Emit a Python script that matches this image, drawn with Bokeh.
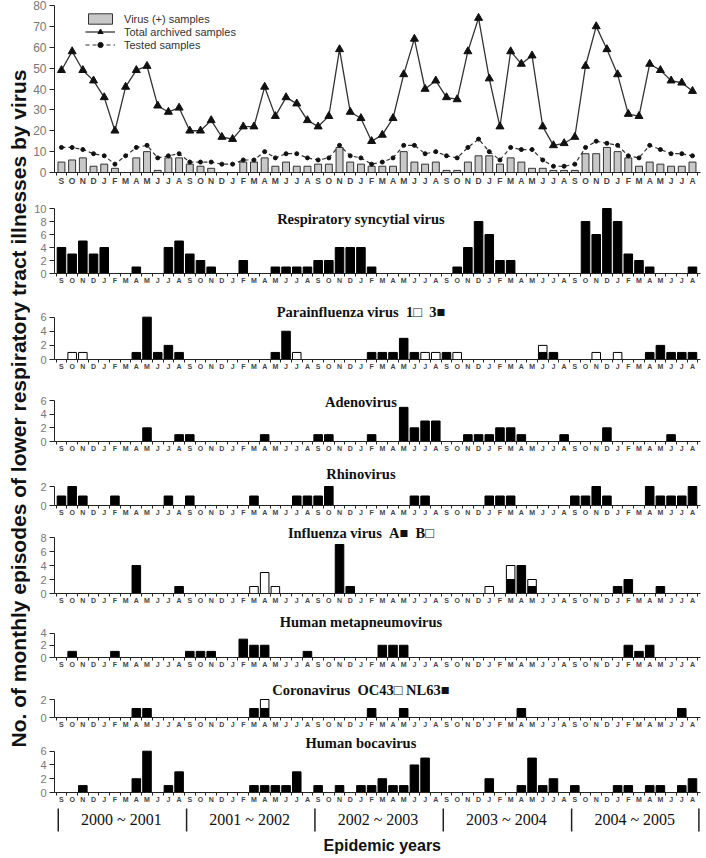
import math
from bokeh.plotting import figure
from bokeh.models import Range1d, FixedTicker, Label, ColumnDataSource
from bokeh.layouts import row, column
from bokeh.embed import file_html
from bokeh.resources import INLINE
from bokeh.core.properties import value

# ---------------- data ----------------
months = ["S", "O", "N", "D", "J", "F", "M", "A", "M", "J", "J", "A"] * 5
epidemic_years = ["2000 ~ 2001", "2001 ~ 2002", "2002 ~ 2003", "2003 ~ 2004", "2004 ~ 2005"]

total_archived = [49, 58, 49, 44, 36, 20, 41, 49, 51, 32, 29, 31,
                  20, 20, 25, 17, 16, 22, 22, 41, 27, 36, 33, 25,
                  22, 27, 59, 29, 26, 15, 18, 26, 47, 64, 40, 44,
                  36, 35, 58, 74, 45, 22, 58, 52, 56, 22, 13, 14,
                  17, 51, 70, 59, 47, 28, 27, 52, 49, 44, 43, 39]
tested = [12, 12, 11, 9, 8, 4, 8, 12, 13, 7, 8, 9,
          5, 5, 5, 4, 4, 6, 6, 10, 7, 9, 9, 7,
          6, 7, 13, 8, 7, 4, 5, 7, 13, 13, 9, 10,
          8, 7, 12, 16, 10, 6, 12, 11, 11, 6, 3, 3,
          4, 12, 15, 14, 13, 8, 7, 13, 11, 9, 9, 8]
virus_pos = [5, 6, 7, 3, 4, 2, 0, 7, 10, 1, 7, 7,
             4, 3, 2, 0, 0, 5, 5, 7, 3, 5, 3, 3,
             4, 4, 12, 5, 4, 3, 3, 3, 10, 5, 4, 5,
             1, 1, 5, 8, 8, 4, 7, 5, 2, 2, 1, 1,
             1, 9, 9, 12, 10, 7, 3, 5, 4, 3, 3, 5]

rsv = [4, 3, 5, 3, 4, 0, 0, 1, 0, 0, 4, 5,
       3, 2, 1, 0, 0, 2, 0, 0, 1, 1, 1, 1,
       2, 2, 4, 4, 4, 1, 0, 0, 0, 0, 0, 0,
       0, 1, 4, 8, 6, 2, 2, 0, 0, 0, 0, 0,
       0, 8, 6, 10, 8, 3, 2, 1, 0, 0, 0, 1]
piv1 = [0, 1, 1, 0, 0, 0, 0, 0, 0, 0, 0, 0,
        0, 0, 0, 0, 0, 0, 0, 0, 0, 0, 1, 0,
        0, 0, 0, 0, 0, 0, 0, 0, 0, 0, 1, 1,
        0, 1, 0, 0, 0, 0, 0, 0, 0, 1, 0, 0,
        0, 0, 1, 0, 1, 0, 0, 0, 0, 0, 0, 0]
piv3 = [0, 0, 0, 0, 0, 0, 0, 1, 6, 1, 2, 1,
        0, 0, 0, 0, 0, 0, 0, 0, 1, 4, 0, 0,
        0, 0, 0, 0, 0, 1, 1, 1, 3, 1, 0, 0,
        1, 0, 0, 0, 0, 0, 0, 0, 0, 1, 1, 0,
        0, 0, 0, 0, 0, 0, 0, 1, 2, 1, 1, 1]
adeno = [0, 0, 0, 0, 0, 0, 0, 0, 2, 0, 0, 1,
         1, 0, 0, 0, 0, 0, 0, 1, 0, 0, 0, 0,
         1, 1, 0, 0, 0, 1, 0, 0, 5, 2, 3, 3,
         0, 0, 1, 1, 1, 2, 2, 1, 0, 0, 0, 1,
         0, 0, 0, 2, 0, 0, 0, 0, 0, 1, 0, 0]
rhino = [1, 2, 1, 0, 0, 1, 0, 0, 0, 0, 1, 0,
         1, 0, 0, 0, 0, 0, 1, 0, 0, 0, 1, 1,
         1, 2, 0, 0, 0, 0, 0, 0, 0, 1, 1, 0,
         0, 0, 0, 0, 1, 1, 1, 0, 0, 0, 0, 0,
         1, 1, 2, 1, 0, 0, 0, 2, 1, 1, 1, 2]
flu_a = [0, 0, 0, 0, 0, 0, 0, 4, 0, 0, 0, 1,
         0, 0, 0, 0, 0, 0, 0, 0, 0, 0, 0, 0,
         0, 0, 7, 1, 0, 0, 0, 0, 0, 0, 0, 0,
         0, 0, 0, 0, 0, 0, 2, 4, 1, 0, 0, 0,
         0, 0, 0, 0, 1, 2, 0, 0, 1, 0, 0, 0]
flu_b = [0, 0, 0, 0, 0, 0, 0, 0, 0, 0, 0, 0,
         0, 0, 0, 0, 0, 0, 1, 3, 1, 0, 0, 0,
         0, 0, 0, 0, 0, 0, 0, 0, 0, 0, 0, 0,
         0, 0, 0, 0, 1, 0, 2, 0, 1, 0, 0, 0,
         0, 0, 0, 0, 0, 0, 0, 0, 0, 0, 0, 0]
hmpv = [0, 1, 0, 0, 0, 1, 0, 0, 0, 0, 0, 0,
        1, 1, 1, 0, 0, 3, 2, 2, 0, 0, 0, 1,
        0, 0, 0, 0, 0, 0, 2, 2, 2, 0, 0, 0,
        0, 0, 0, 0, 0, 0, 0, 0, 0, 0, 0, 0,
        0, 0, 0, 0, 0, 2, 1, 2, 0, 0, 0, 0]
cov_nl63 = [0, 0, 0, 0, 0, 0, 0, 1, 1, 0, 0, 0,
            0, 0, 0, 0, 0, 0, 1, 1, 0, 0, 0, 0,
            0, 0, 0, 0, 0, 1, 0, 0, 1, 0, 0, 0,
            0, 0, 0, 0, 0, 0, 0, 1, 0, 0, 0, 0,
            0, 0, 0, 0, 0, 0, 0, 0, 0, 0, 1, 0]
cov_oc43 = [0, 0, 0, 0, 0, 0, 0, 0, 0, 0, 0, 0,
            0, 0, 0, 0, 0, 0, 0, 1, 0, 0, 0, 0,
            0, 0, 0, 0, 0, 0, 0, 0, 0, 0, 0, 0,
            0, 0, 0, 0, 0, 0, 0, 0, 0, 0, 0, 0,
            0, 0, 0, 0, 0, 0, 0, 0, 0, 0, 0, 0]
boca = [0, 0, 1, 0, 0, 0, 0, 2, 6, 0, 1, 3,
        0, 0, 0, 0, 0, 0, 1, 1, 1, 1, 3, 0,
        1, 0, 1, 0, 1, 1, 2, 1, 1, 4, 5, 0,
        0, 0, 0, 0, 2, 0, 0, 1, 5, 1, 2, 0,
        1, 0, 0, 0, 1, 1, 0, 1, 1, 0, 1, 2]

x = list(range(len(months)))

# ---------------- layout helpers ----------------
XR = Range1d(-0.65, 59.75)
LW = 30                 # y-label strip width
PW, LB, RB = 675, 23, 5  # panel width, left / right borders
SANS = "Liberation Sans"
SERIF = "Liberation Serif"
SP = "\u00a0"


def style_axes(p, ymax, ystep, month_font, ytick_font):
    p.grid.visible = False
    p.outline_line_color = None
    xa = p.xaxis[0]
    xa.ticker = FixedTicker(ticks=x, minor_ticks=[i - 0.5 for i in range(len(x) + 1)])
    xa.major_label_overrides = {i: m for i, m in enumerate(months)}
    xa.major_tick_out = 0
    xa.major_tick_in = 0
    xa.minor_tick_out = 3
    xa.minor_tick_in = 0
    xa.major_label_standoff = 0
    xa.major_label_text_font = SANS
    xa.major_label_text_font_style = "bold"
    xa.major_label_text_font_size = month_font
    xa.major_label_text_color = "#444"
    xa.axis_line_color = "#222"
    xa.minor_tick_line_color = "#222"
    ya = p.yaxis[0]
    ya.ticker = FixedTicker(ticks=list(range(0, ymax + 1, ystep)))
    ya.bounds = (0, ymax)
    ya.major_tick_out = 5
    ya.major_tick_in = 0
    ya.minor_tick_out = 0
    ya.minor_tick_in = 0
    ya.major_label_standoff = 3
    ya.major_label_text_font = SANS
    ya.major_label_text_font_size = ytick_font
    ya.major_label_text_color = "#777"
    ya.axis_line_color = "#222"
    ya.major_tick_line_color = "#222"


def panel(fig_top, fig_bottom, axis_top, axis_bottom, ymax, ystep,
          title_y=None, text=None, month_font="7px", ytick_font="11px", top_border=2):
    """Panel whose frame reaches up to the title; the y axis only spans 0..ymax."""
    frame_top = fig_top + top_border
    per_px = ymax / float(axis_bottom - axis_top)
    y_end = (axis_bottom - frame_top) * per_px
    p = figure(width=PW, height=fig_bottom - fig_top, x_range=XR, y_range=Range1d(0, y_end),
               output_backend="svg", toolbar_location=None,
               min_border_left=LB, min_border_right=RB,
               min_border_top=top_border, min_border_bottom=fig_bottom - axis_bottom)
    style_axes(p, ymax, ystep, month_font, ytick_font)
    if text is not None:
        p.add_layout(Label(x=28, y=(axis_bottom - title_y) * per_px, text=text,
                           text_align="center", text_baseline="middle", text_font=SERIF,
                           text_font_style="bold", text_font_size="14.5px", text_color="#111"))
    return p


def bars(p, vals, bottom=None, fill="black", width=0.8):
    b = bottom if bottom is not None else [0] * len(vals)
    keep = [i for i, v in enumerate(vals) if v > 0]
    src = ColumnDataSource(dict(x=[x[i] for i in keep],
                                bottom=[b[i] for i in keep],
                                top=[b[i] + vals[i] for i in keep]))
    p.vbar(x="x", bottom="bottom", top="top", width=width, source=src,
           fill_color=fill, line_color="black", line_width=1)


# ---------------- top panel ----------------
p0 = panel(0, 188, 5, 172, 80, 10, month_font="8.5px", ytick_font="12px", top_border=5)
p0.vbar(x=x, top=virus_pos, width=0.65, fill_color="#c8c8c8", line_color="#333",
        line_width=1, legend_label="Virus (+) samples")
p0.line(x, total_archived, line_color="#333", line_width=1.3,
        legend_label="Total archived samples")
p0.scatter(x, total_archived, marker="triangle", size=8, fill_color="#111",
           line_color="#111", legend_label="Total archived samples")
p0.line(x, tested, line_color="#333", line_width=1.2, line_dash="4 3",
        legend_label="Tested samples")
p0.scatter(x, tested, marker="circle", size=4, fill_color="#111",
           line_color="#111", legend_label="Tested samples")
lg = p0.legend[0]
lg.location = (31, 121)
lg.padding = 0
lg.spacing = 0
lg.margin = 0
lg.border_line_color = None
lg.background_fill_alpha = 0
lg.label_text_font = SANS
lg.label_text_font_size = "11px"
lg.label_text_color = "#333"
lg.glyph_width = 30
lg.glyph_height = 13
lg.label_height = 13
lg.label_standoff = 9

# ---------------- virus panels ----------------
p1 = panel(188, 290, 208, 273, 10, 2, 218, "Respiratory syncytial virus")
bars(p1, rsv)

p2 = panel(290, 372, 317, 360, 6, 2, 312,
           "Parainfluenza virus" + SP * 2 + "1\u25a1" + SP * 2 + "3\u25a0")
bars(p2, piv3)
bars(p2, piv1, bottom=piv3, fill="white")

p3 = panel(372, 456, 400, 441, 6, 2, 401, "Adenovirus")
bars(p3, adeno)

p4 = panel(456, 518, 486, 505, 2, 2, 473, "Rhinovirus")
bars(p4, rhino)

p5 = panel(518, 608, 537, 593, 8, 2, 532,
           "Influenza virus" + SP * 2 + "A\u25a0" + SP * 2 + "B\u25a1")
bars(p5, flu_a)
bars(p5, flu_b, bottom=flu_a, fill="white")

p6 = panel(608, 670, 633, 658, 4, 2, 622, "Human metapneumovirus")
bars(p6, hmpv)

p7 = panel(670, 730, 699, 717, 2, 2, 689,
           "Coronavirus" + SP * 2 + "OC43\u25a1" + SP + "NL63\u25a0")
bars(p7, cov_nl63)
bars(p7, cov_oc43, bottom=cov_nl63, fill="white")

p8 = panel(730, 805, 751, 793, 6, 2, 743, "Human bocavirus")
bars(p8, boca)

# ---------------- epidemic years strip ----------------
py = figure(width=PW, height=52, x_range=XR, y_range=Range1d(857, 805),
            output_backend="svg", toolbar_location=None,
            x_axis_location=None, y_axis_location=None,
            min_border_left=LB, min_border_right=RB,
            min_border_top=0, min_border_bottom=0)
py.grid.visible = False
py.outline_line_color = None
n_years = len(epidemic_years)
seps = [12 * k - 0.3 for k in range(n_years)] + [12 * n_years - 0.4]
py.segment(x0=seps, y0=[808] * len(seps), x1=seps, y1=[831] * len(seps),
           line_color="#222", line_width=1.5)
py.text(x=[12 * k + 5.6 for k in range(n_years)], y=[819] * n_years,
        text=epidemic_years, text_align="center", text_baseline="middle",
        text_font=value(SERIF), text_font_size="16px", text_color="#111")
py.add_layout(Label(x=30, y=845, text="Epidemic years", text_align="center",
                    text_baseline="middle", text_font=SANS,
                    text_font_style="bold", text_font_size="16px",
                    text_color="#111"))

# ---------------- y label strip ----------------
pl = figure(width=LW, height=857, x_range=Range1d(0, LW), y_range=Range1d(857, 0),
            output_backend="svg", toolbar_location=None,
            x_axis_location=None, y_axis_location=None,
            min_border_left=0, min_border_right=0,
            min_border_top=0, min_border_bottom=0)
pl.grid.visible = False
pl.outline_line_color = None
pl.add_layout(Label(x=18, y=408,
                    text="No. of monthly episodes of lower respiratory tract illnesses by virus",
                    angle=math.pi / 2, text_align="center", text_baseline="middle",
                    text_font=SANS, text_font_style="bold", text_font_size="21px",
                    text_color="#111"))

layout = row(pl, column(p0, p1, p2, p3, p4, p5, p6, p7, p8, py, spacing=0), spacing=0)

open("out.html", "w").write(file_html(layout, INLINE, "LRTI by virus"))
